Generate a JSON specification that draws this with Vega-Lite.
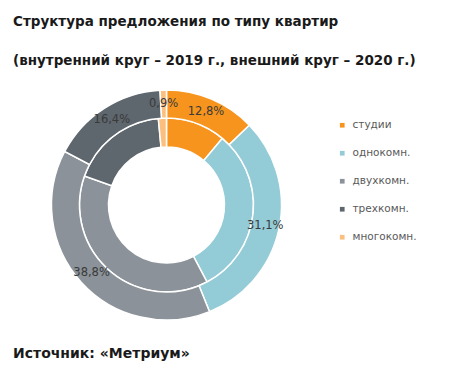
{
  "$schema": "https://vega.github.io/schema/vega-lite/v6.json",
  "padding": {"left": 13, "top": 14, "right": 5, "bottom": 5},
  "background": "white",
  "config": {
    "view": {"stroke": null},
    "font": "DejaVu Sans",
    "title": {"font": "DejaVu Sans", "fontWeight": "bold", "fontSize": 13.5, "color": "#1a1a1a", "anchor": "start"}
  },
  "title": {
    "text": ["Структура предложения по типу квартир", "(внутренний круг – 2019 г., внешний круг – 2020 г.)"],
    "lineHeight": 39,
    "offset": 20
  },
  "datasets": {
    "shares": [
      {"year": 2019, "type": "студии", "o": 1, "value": 11.1, "label": "11,1%"},
      {"year": 2019, "type": "однокомн.", "o": 2, "value": 31.2, "label": "31,2%"},
      {"year": 2019, "type": "двухкомн.", "o": 3, "value": 38.1, "label": "38,1%"},
      {"year": 2019, "type": "трехкомн.", "o": 4, "value": 18.1, "label": "18,1%"},
      {"year": 2019, "type": "многокомн.", "o": 5, "value": 1.5, "label": "1,5%"},
      {"year": 2020, "type": "студии", "o": 1, "value": 12.8, "label": "12,8%"},
      {"year": 2020, "type": "однокомн.", "o": 2, "value": 31.1, "label": "31,1%"},
      {"year": 2020, "type": "двухкомн.", "o": 3, "value": 38.8, "label": "38,8%"},
      {"year": 2020, "type": "трехкомн.", "o": 4, "value": 16.4, "label": "16,4%"},
      {"year": 2020, "type": "многокомн.", "o": 5, "value": 0.9, "label": "0,9%"}
    ]
  },
  "vconcat": [
    {
      "width": 307,
      "height": 230,
      "title": {"text": "Источник: «Метриум»", "orient": "bottom", "offset": 24, "fontSize": 14},
      "data": {"name": "shares"},
      "layer": [
        {
          "transform": [{"filter": "datum.year == 2019"}],
          "mark": {"type": "arc", "radius": 87, "radius2": 58, "stroke": "white", "strokeWidth": 1.5},
          "encoding": {
            "theta": {"field": "value", "type": "quantitative", "stack": true},
            "order": {"field": "o", "type": "quantitative"},
            "color": {
              "field": "type", "type": "nominal",
              "scale": {
                "domain": ["студии", "однокомн.", "двухкомн.", "трехкомн.", "многокомн."],
                "range": ["#F7941E", "#93CBD7", "#8B9299", "#5E666E", "#FBC07F"]
              },
              "legend": {
                "orient": "none", "legendX": 324, "legendY": 30, "title": null,
                "symbolType": "square", "symbolSize": 22, "symbolStrokeWidth": 0,
                "labelFontSize": 10.5, "labelColor": "#595959", "labelFont": "DejaVu Sans",
                "rowPadding": 17, "labelOffset": 5
              }
            }
          }
        },
        {
          "transform": [{"filter": "datum.year == 2020"}],
          "mark": {"type": "arc", "radius": 115, "radius2": 87, "stroke": "white", "strokeWidth": 1.5},
          "encoding": {
            "theta": {"field": "value", "type": "quantitative", "stack": true},
            "order": {"field": "o", "type": "quantitative"},
            "color": {"field": "type", "type": "nominal"}
          }
        },
        {
          "transform": [{"filter": "datum.year == 2020"}],
          "mark": {"type": "text", "radius": 101, "fontSize": 11.5, "color": "#3a3a3a", "font": "DejaVu Sans"},
          "encoding": {
            "theta": {"field": "value", "type": "quantitative", "stack": true},
            "order": {"field": "o", "type": "quantitative"},
            "text": {"field": "label", "type": "nominal"}
          }
        }
      ]
    }
  ]
}
